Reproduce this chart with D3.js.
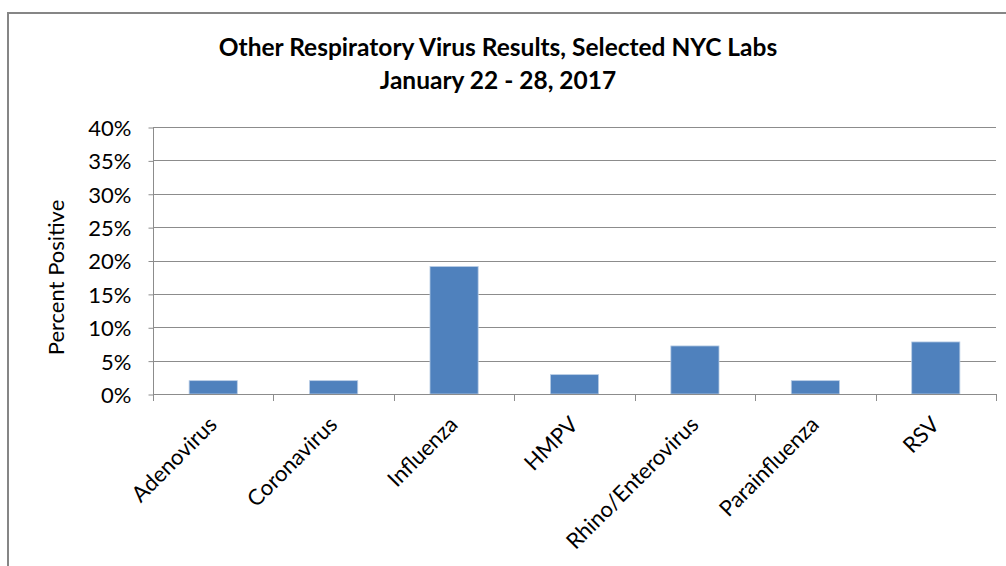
<!DOCTYPE html>
<html>
<head>
<meta charset="utf-8">
<script src="https://cdn.jsdelivr.net/npm/d3@7"></script>
<style>
  html, body { margin: 0; padding: 0; background: #fff; }
  svg { display: block; font-family: Lato, "Open Sans", sans-serif; }
</style>
</head>
<body>
<svg id="chart" width="1006" height="566"></svg>
<script>
// Percent of specimens testing positive, by virus
const categories = ["Adenovirus", "Coronavirus", "Influenza", "HMPV", "Rhino/Enterovirus", "Parainfluenza", "RSV"];
const percentPositive = [2.0, 2.0, 19.1, 2.9, 7.2, 2.0, 7.8];
const yTicks = [0, 5, 10, 15, 20, 25, 30, 35, 40];
const titleLines = ["Other Respiratory Virus Results, Selected NYC Labs", "January 22 - 28, 2017"];
const yAxisTitle = "Percent Positive";

const svg = d3.select("#chart");
const W = 1006, H = 566;
const plot = { left: 153, right: 996, top: 127, bottom: 394 };
const labelSize = 22;

// Outer chart frame (runs off the right and bottom edges)
svg.append("rect")
  .attr("x", 8).attr("y", 13)
  .attr("width", W + 20).attr("height", H + 20)
  .attr("fill", "#fff")
  .attr("stroke", "#868686")
  .attr("stroke-width", 2);

const x = d3.scaleBand().domain(categories).range([plot.left, plot.right]).padding(0);
const y = d3.scaleLinear().domain([0, 40]).range([plot.bottom, plot.top]);

// Horizontal gridlines
svg.append("g").selectAll("line").data(yTicks.filter(t => t > 0)).join("line")
  .attr("x1", plot.left).attr("x2", plot.right)
  .attr("y1", d => Math.round(y(d)) + 0.5).attr("y2", d => Math.round(y(d)) + 0.5)
  .attr("stroke", "#8c8c8c").attr("stroke-width", 1);

// Bars: Excel-style 150% gap width
const barW = x.bandwidth() / 2.5;
svg.append("g").selectAll("rect").data(categories).join("rect")
  .attr("x", d => x(d) + (x.bandwidth() - barW) / 2)
  .attr("width", barW)
  .attr("y", (d, i) => y(percentPositive[i]))
  .attr("height", (d, i) => y(0) - y(percentPositive[i]))
  .attr("fill", "#4f81bd")
  .attr("stroke", "#b9cde5")
  .attr("stroke-width", 0.8);

// Y axis
const yAxis = d3.axisLeft(y).tickValues(yTicks).tickFormat(d => d + "%").tickSize(5).tickPadding(17);
const gy = svg.append("g").attr("transform", `translate(${plot.left + 0.5},0.5)`).call(yAxis);
gy.select(".domain").attr("stroke", "#8c8c8c").attr("d", `M0,${plot.top}V${plot.bottom}`);
gy.selectAll(".tick line").attr("stroke", "#8c8c8c");
gy.selectAll(".tick text").attr("font-size", labelSize).attr("fill", "#000").attr("dy", "0.36em")
  .attr("font-family", "Lato, 'Open Sans', sans-serif");

// X axis baseline and category boundary ticks
const bounds = categories.map(c => x(c)).concat([plot.right]);
svg.append("line")
  .attr("x1", plot.left).attr("x2", plot.right)
  .attr("y1", plot.bottom + 0.5).attr("y2", plot.bottom + 0.5)
  .attr("stroke", "#8c8c8c");
svg.append("g").selectAll("line").data(bounds).join("line")
  .attr("x1", d => Math.round(d) + 0.5).attr("x2", d => Math.round(d) + 0.5)
  .attr("y1", plot.bottom).attr("y2", plot.bottom + 7)
  .attr("stroke", "#8c8c8c");

// Rotated category labels, ending just right of each band centre
svg.append("g").selectAll("text").data(categories).join("text")
  .attr("transform", d => `translate(${x(d) + x.bandwidth() / 2 + 5},${plot.bottom + 32}) rotate(-45)`)
  .attr("text-anchor", "end")
  .attr("font-size", labelSize)
  .attr("fill", "#000")
  .text(d => d);

// Y axis title
svg.append("text")
  .attr("transform", `translate(64,${(plot.top + plot.bottom) / 2 + 17}) rotate(-90)`)
  .attr("text-anchor", "middle")
  .attr("font-size", labelSize)
  .attr("fill", "#000")
  .text(yAxisTitle);

// Chart title
svg.append("g").selectAll("text").data(titleLines).join("text")
  .attr("x", 498)
  .attr("y", (d, i) => 56 + i * 33)
  .attr("text-anchor", "middle")
  .attr("font-size", 24.5)
  .attr("font-weight", "bold")
  .attr("fill", "#000")
  .text(d => d);
</script>
</body>
</html>
